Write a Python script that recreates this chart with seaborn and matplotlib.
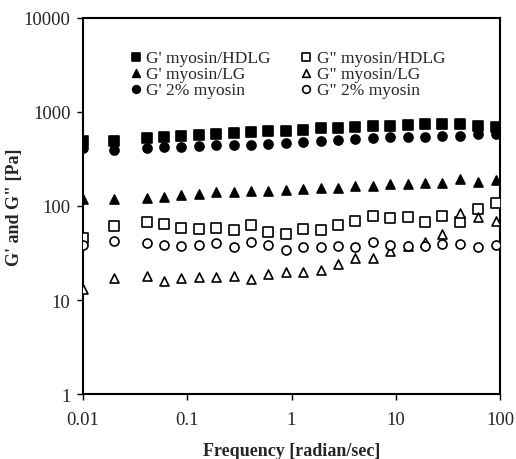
import matplotlib
matplotlib.use("Agg")
import matplotlib.pyplot as plt
import seaborn as sns
import numpy as np
import pandas as pd
from matplotlib.ticker import FixedLocator, NullLocator

sns.set_theme(style="white")
plt.rcParams['font.family'] = ['Liberation Serif', 'DejaVu Serif']

freq = [0.01, 0.02, 0.041, 0.06, 0.088, 0.13, 0.19, 0.28, 0.41, 0.6, 0.88,
        1.3, 1.9, 2.8, 4.1, 6.0, 8.8, 13, 19, 28, 41, 61, 91]

g1_hdlg = [490, 490, 527, 545, 550, 570, 580, 600, 610, 630, 630,
           650, 670, 680, 690, 710, 715, 735, 740, 745, 745, 715, 690]
g2_hdlg = [46, 62, 67, 64.5, 59, 57, 58, 55, 63, 53, 50,
           57, 56, 63, 70, 78, 74, 77, 67, 78, 67, 93, 107]
g1_lg = [120, 119, 123, 125, 131, 134, 140, 142, 143, 146, 149,
         152, 155, 155, 162, 164, 171, 171, 174, 174, 192, 179, 190]
g2_lg = [13, 17, 18, 16, 17, 17.5, 17.5, 18, 16.7, 19, 20,
         20, 21, 24, 27.7, 27.7, 33.5, 38, 41, 50, 85, 76, 69]
g1_my = [410, 390, 410, 420, 425, 430, 445, 445, 450, 455, 470,
         480, 490, 500, 515, 530, 540, 545, 545, 550, 560, 580, 580]
g2_my = [38.5, 42, 40, 38.5, 38, 38.5, 40, 36.4, 41, 38.5, 34,
         36.4, 36.4, 38, 37, 41, 38.5, 38, 37.5, 39.5, 39.5, 36.6, 38.5]

series = [
    ("G' myosin/HDLG", g1_hdlg, 's', True),
    ("G' myosin/LG", g1_lg, '^', True),
    ("G' 2% myosin", g1_my, 'o', True),
    ('G" myosin/HDLG', g2_hdlg, 's', False),
    ('G" myosin/LG', g2_lg, '^', False),
    ('G" 2% myosin', g2_my, 'o', False),
]

fig = plt.figure(figsize=(5.16, 4.6), dpi=100)
ax = fig.add_axes([83/516, 1-395/460, 417/516, 376/460])

for name, vals, mk, filled in series:
    df = pd.DataFrame({'f': freq, 'g': vals})
    sns.scatterplot(data=df, x='f', y='g', ax=ax, marker=mk, s=42,
                    facecolor='black' if filled else 'white',
                    edgecolor='black', linewidth=1.2, label=name,
                    clip_on=True, zorder=3)

ax.set_xscale('log')
ax.set_yscale('log')
ax.set_xlim(0.01, 100)
ax.set_ylim(1, 10000)
ax.xaxis.set_major_locator(FixedLocator([0.01, 0.1, 1, 10, 100]))
ax.yaxis.set_major_locator(FixedLocator([1, 10, 100, 1000, 10000]))
ax.xaxis.set_minor_locator(NullLocator())
ax.yaxis.set_minor_locator(NullLocator())
ax.set_xticklabels(['0.01', '0.1', '1', '10', '100'])
ax.set_yticklabels(['1', '10', '100', '1000', '10000'])
ax.tick_params(axis='both', which='major', direction='out', length=4,
               width=1, color='black', labelsize=13.5, pad=5,
               bottom=True, left=True)
ax.tick_params(axis='x', pad=8)
for sp in ax.spines.values():
    sp.set_color('black')
    sp.set_linewidth(1.5)

ax.set_xlabel('Frequency [radian/sec]', fontsize=13, fontweight='bold', labelpad=10)
ax.set_ylabel('G\' and G" [Pa]', fontsize=13, fontweight='bold')
ax.yaxis.set_label_coords(-0.145, 0.5)

leg = ax.legend(loc='upper left', bbox_to_anchor=(0.085, 0.935), ncol=2,
                frameon=False, fontsize=12.5, handletextpad=0.0,
                columnspacing=1.45, labelspacing=0.0, borderaxespad=0,
                handlelength=1.2, markerscale=0.85)

fig.savefig('out.png', dpi=100)
